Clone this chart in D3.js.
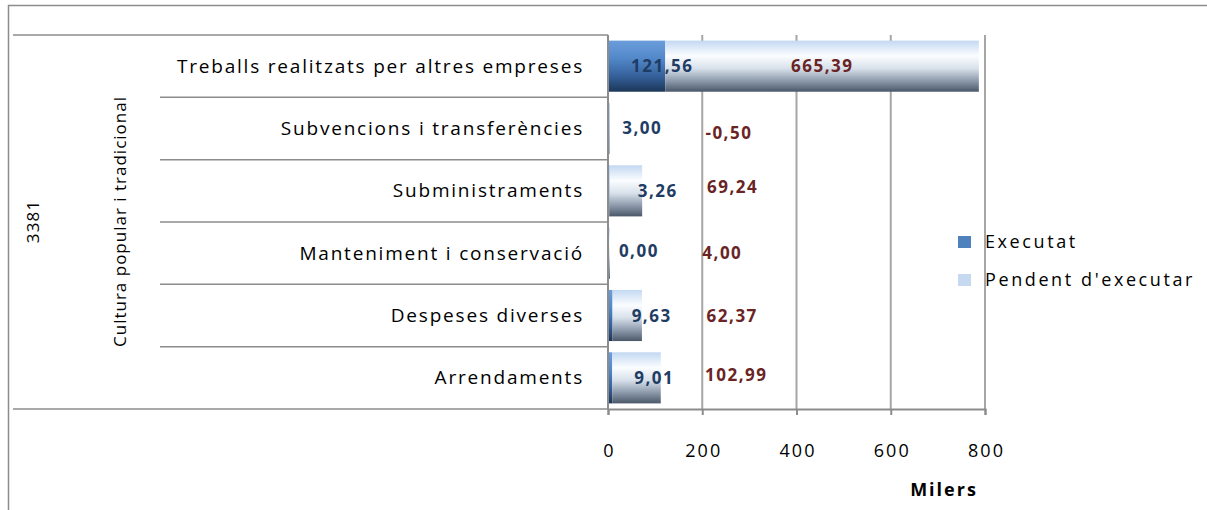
<!DOCTYPE html>
<html>
<head>
<meta charset="utf-8">
<script src="https://cdn.jsdelivr.net/npm/d3@7"></script>
<style>
  body { margin: 0; background: #fff; }
  svg text { font-family: "Open Sans", "Noto Sans", sans-serif; }
</style>
</head>
<body>
<script>
// chart data
var categories = ["Treballs realitzats per altres empreses", "Subvencions i transferències",
    "Subministraments", "Manteniment i conservació", "Despeses diverses", "Arrendaments"];
var executat = [121.56, 3.00, 3.26, 0.00, 9.63, 9.01];
var pendent = [665.39, -0.50, 69.24, 4.00, 62.37, 102.99];
var seriesNames = ["Executat", "Pendent d'executar"];
var xTicks = [0, 200, 400, 600, 800];
var groupLabel = "Cultura popular i tradicional";
var codeLabel = "3381";
var axisTitle = "Milers";

// where the data labels sit (in axis units), as moved by hand in the original
var execLabelAt = [113.5, 71, 104, 64, 91, 96.5];
var pendLabelAt = [453, 255, 263, 241, 262, 270.5];
var execLabelDy = [0, -0.5, 0, -2, 0.5, 0];
var pendLabelDy = [0, 4.5, -4, 0, 0.5, -3];

var width = 1207, height = 510;
var svg = d3.select("body").append("svg").attr("width", width).attr("height", height);

var x = d3.scaleLinear().domain([0, 800]).range([608, 985]);
var y = d3.scaleBand().domain(categories).range([35, 409]).paddingInner(0.18).paddingOuter(0.09);

// outer frame (left and top edges visible)
svg.append("path").attr("d", "M8.5,510V5.5H1207").attr("fill", "none")
    .attr("stroke", "#8c8c8c").attr("stroke-width", 1.5);

// gradients
var defs = svg.append("defs");
function grad(id, stops) {
    var g = defs.append("linearGradient").attr("id", id)
        .attr("x1", 0).attr("y1", 0).attr("x2", 0).attr("y2", 1);
    stops.forEach(function (s) {
        g.append("stop").attr("offset", s[0]).attr("stop-color", s[1]);
    });
}
grad("gExec", [[0, "#6b9ddb"], [0.35, "#5288c9"], [0.7, "#34609a"], [1, "#1c3658"]]);
grad("gPend", [[0, "#c3d8f2"], [0.3, "#fbfdff"], [0.55, "#d7e0ea"], [0.8, "#8896a8"], [1, "#4a5869"]]);

// vertical gridlines
svg.append("g").selectAll("line").data(xTicks.slice(1)).enter().append("line")
    .attr("x1", function (d) { return x(d); }).attr("x2", function (d) { return x(d); })
    .attr("y1", 35).attr("y2", 409)
    .attr("stroke", "#a6a6a6").attr("stroke-width", 2);

// category separators
var step = y.step();
var bounds = d3.range(categories.length + 1).map(function (i) { return 35 + i * step; });
svg.append("g").selectAll("line").data(bounds).enter().append("line")
    .attr("x1", function (d, i) { return (i === 0 || i === bounds.length - 1) ? 13 : 160; })
    .attr("x2", 608)
    .attr("y1", function (d) { return d; }).attr("y2", function (d) { return d; })
    .attr("stroke", "#8c8c8c").attr("stroke-width", 1.5);

// stacked bars
var rows = categories.map(function (c, i) {
    return { cat: c, Executat: executat[i], "Pendent d'executar": pendent[i] };
});
var stacked = d3.stack().keys(seriesNames).offset(d3.stackOffsetDiverging)(rows);
var fills = ["url(#gExec)", "url(#gPend)"];
svg.append("g").selectAll("g").data(stacked).enter().append("g")
    .attr("fill", function (d, i) { return fills[i]; })
    .selectAll("rect").data(function (d) { return d; }).enter().append("rect")
    .attr("x", function (d) { return x(Math.min(d[0], d[1])); })
    .attr("width", function (d) { return Math.abs(x(d[1]) - x(d[0])); })
    .attr("y", function (d) { return y(d.data.cat); })
    .attr("height", y.bandwidth());

// value axis
var xAxis = svg.append("g").attr("transform", "translate(0,409)")
    .call(d3.axisBottom(x).tickValues(xTicks).tickSize(6).tickFormat(d3.format("d")));
xAxis.select(".domain").attr("stroke", "#8c8c8c").attr("stroke-width", 2);
xAxis.selectAll(".tick line").attr("stroke", "#8c8c8c").attr("stroke-width", 2);
xAxis.selectAll(".tick text").attr("y", 42).attr("dy", "0.35em").attr("dx", 1)
    .attr("font-size", 18).attr("fill", "#000").style("letter-spacing", "2px");

// category axis line
svg.append("line").attr("x1", 608).attr("x2", 608).attr("y1", 35).attr("y2", 409)
    .attr("stroke", "#8c8c8c").attr("stroke-width", 2);

// category labels
svg.append("g").selectAll("text").data(categories).enter().append("text")
    .attr("x", 584).attr("y", function (d) { return y(d) + y.bandwidth() / 2; })
    .attr("dy", "0.35em").attr("text-anchor", "end")
    .attr("font-size", 19).style("letter-spacing", "1.8px")
    .text(function (d) { return d; });

// group labels (rotated)
var midY = (35 + 409) / 2;
svg.append("text").attr("transform", "translate(33," + midY + ") rotate(-90)")
    .attr("text-anchor", "middle").attr("dy", "0.35em").attr("dx", 0.6).attr("font-size", 17)
    .style("letter-spacing", "1.2px")
    .text(codeLabel);
svg.append("text").attr("transform", "translate(120," + midY + ") rotate(-90)")
    .attr("text-anchor", "middle").attr("dy", "0.35em").attr("dx", 0.5).attr("font-size", 17)
    .style("letter-spacing", "1px")
    .text(groupLabel);

// data labels
var fmt = function (v) { return d3.format(".2f")(v).replace(".", ",").replace("\u2212", "-"); };
svg.append("g").selectAll("text").data(executat).enter().append("text")
    .attr("x", function (d, i) { return x(execLabelAt[i]); })
    .attr("y", function (d, i) { return y(categories[i]) + y.bandwidth() / 2 + execLabelDy[i]; })
    .attr("dy", "0.35em").attr("dx", 0.75).attr("text-anchor", "middle")
    .attr("font-size", 17).attr("font-weight", "bold").attr("fill", "#1f3c64")
    .style("letter-spacing", "1.5px")
    .text(fmt);
svg.append("g").selectAll("text").data(pendent).enter().append("text")
    .attr("x", function (d, i) { return x(pendLabelAt[i]); })
    .attr("y", function (d, i) { return y(categories[i]) + y.bandwidth() / 2 + pendLabelDy[i]; })
    .attr("dy", "0.35em").attr("dx", 0.75).attr("text-anchor", "middle")
    .attr("font-size", 17).attr("font-weight", "bold").attr("fill", "#6a2424")
    .style("letter-spacing", "1.5px")
    .text(fmt);

// axis title
svg.append("text").attr("x", 943).attr("y", 490).attr("dy", "0.35em").attr("dx", 1)
    .attr("text-anchor", "middle").attr("font-size", 18).attr("font-weight", "bold")
    .style("letter-spacing", "2px")
    .text(axisTitle);

// legend
var legendColors = ["#4f81bd", "#c6d9f1"];
var legend = svg.append("g").selectAll("g").data(seriesNames).enter().append("g")
    .attr("transform", function (d, i) { return "translate(958," + (242 + i * 38) + ")"; });
legend.append("rect").attr("x", 0).attr("y", -6).attr("width", 13).attr("height", 12)
    .attr("fill", function (d, i) { return legendColors[i]; });
legend.append("text").attr("x", 27).attr("dy", "0.35em").attr("font-size", 18)
    .style("letter-spacing", "2.6px")
    .text(function (d) { return d; });
</script>
</body>
</html>
